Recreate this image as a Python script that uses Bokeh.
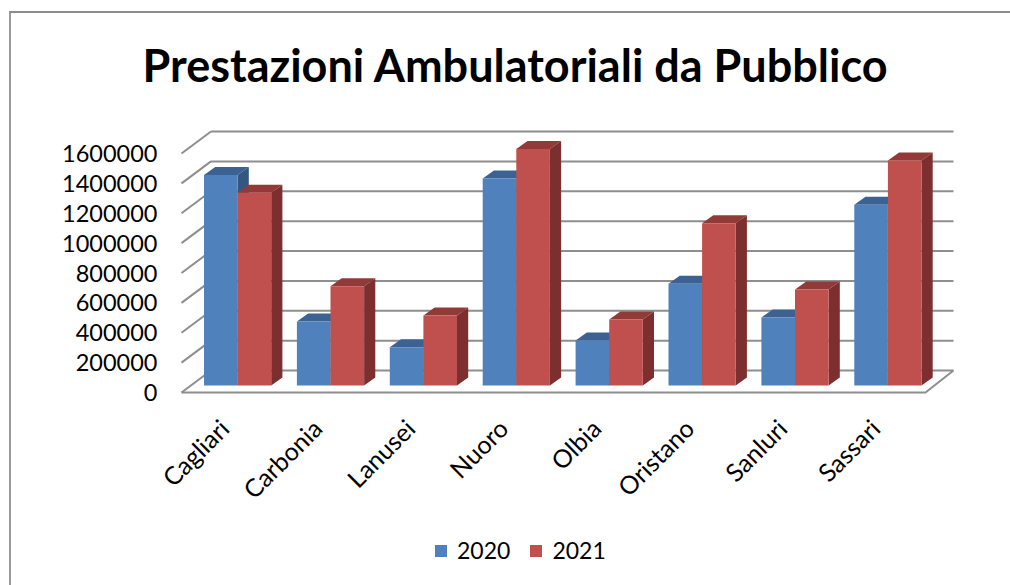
from bokeh.plotting import figure
from bokeh.embed import file_html
from bokeh.resources import INLINE
from bokeh.models import (Range1d, LinearAxis, FixedTicker, Legend, LegendItem,
                          Title, InlineStyleSheet)

categories = ["Cagliari", "Carbonia", "Lanusei", "Nuoro", "Olbia", "Oristano", "Sanluri", "Sassari"]
values_2020 = [1410000, 428000, 256000, 1386000, 301000, 681000, 455000, 1210000]
values_2021 = [1290000, 665000, 469000, 1583000, 442000, 1087000, 643000, 1506000]
y_ticks = [0, 200000, 400000, 600000, 800000, 1000000, 1200000, 1400000, 1600000]
series_names = ["2020", "2021"]

BLUE, BLUE_TOP, BLUE_SIDE = "#4F81BD", "#3B6292", "#335780"
RED, RED_TOP, RED_SIDE = "#C0504D", "#923A38", "#7C2F2E"
GRID = "#8E8E8E"
FONT = "Lato"

PX_X = 1 / 93
PX_Y = 200000 / 29.875

p = figure(width=1010, height=585, frame_width=1010, frame_height=458,
           min_border_left=0, min_border_right=0, min_border_top=127, min_border_bottom=0,
           x_range=Range1d(-181 * PX_X, 829 * PX_X),
           y_range=Range1d(-193 * PX_Y, 265 * PX_Y),
           output_backend="svg", toolbar_location=None, x_axis_type=None, y_axis_type=None)
p.outline_line_color = None
p.background_fill_color = "white"
p.border_fill_color = "white"

# outer chart border, open on the sides that the reference crops
p.stylesheets = [InlineStyleSheet(css=""":host::after { content: ''; position: absolute; left: 8.5px; top: 11px;
    right: 0; bottom: 0; border-left: 2px solid #9A9A9A; border-top: 2px solid #8C8C8C;
    pointer-events: none; z-index: 5; }""")]

wall_dx, wall_dy = 29.5 * PX_X, 22 * PX_Y
n = len(categories)
back_r = 772 * PX_X
p.multi_line([[wall_dx, back_r] for _ in y_ticks],
             [[v + wall_dy, v + wall_dy] for v in y_ticks], line_color=GRID, line_width=2)
p.multi_line([[0, wall_dx] for _ in y_ticks],
             [[v, v + wall_dy] for v in y_ticks], line_color=GRID, line_width=2)
p.line([0, n, n + wall_dx - 1.5 * PX_X], [0, 0, wall_dy], line_color=GRID, line_width=2)

base = 7 * PX_Y
step = 92.9 * PX_X
start = 22.5 * PX_X
bw = 33.6 * PX_X
dx3, dy3 = 11.2 * PX_X, 8 * PX_Y

legend_r = {}
for s, (name, vals, front, top, side) in enumerate(zip(series_names, [values_2020, values_2021],
                                                       [BLUE, RED], [BLUE_TOP, RED_TOP], [BLUE_SIDE, RED_SIDE])):
    xl = [i * step + start + s * bw for i in range(n)]
    xr = [x + bw for x in xl]
    yt = [v + base for v in vals]
    p.patches([[a, a + dx3, b + dx3, b] for a, b in zip(xl, xr)],
              [[t, t + dy3, t + dy3, t] for t in yt], fill_color=top, line_color=None)
    p.patches([[b, b + dx3, b + dx3, b] for b in xr],
              [[base, base + dy3, t + dy3, t] for t in yt], fill_color=side, line_color=None)
    legend_r[name] = p.quad(left=xl, right=xr, bottom=base, top=yt, fill_color=front, line_color=None)

yaxis = LinearAxis(ticker=FixedTicker(ticks=y_ticks), axis_line_color=None, fixed_location=-3 * PX_X,
                   major_tick_line_color=None, minor_tick_line_color=None,
                   major_label_standoff=15, major_label_text_font=FONT,
                   major_label_text_font_size="23.5px", major_label_text_color="black")
yaxis.formatter.use_scientific = False
p.add_layout(yaxis, "left")

centers = [i + 0.5 - 4 * PX_X for i in range(n)]
xaxis = LinearAxis(ticker=FixedTicker(ticks=centers), axis_line_color=None, fixed_location=-4 * PX_Y,
                   major_tick_line_color=None, minor_tick_line_color=None,
                   major_label_overrides={c: t for c, t in zip(centers, categories)},
                   major_label_orientation=0.7854, major_label_standoff=21,
                   major_label_text_font=FONT, major_label_text_font_size="25px",
                   major_label_text_color="black")
p.add_layout(xaxis, "below")

p.add_layout(Title(text="Prestazioni Ambulatoriali da Pubblico", align="left", offset=142,
                   standoff=71, text_font=FONT, text_font_size="45px", text_font_style="bold",
                   text_color="black"), "above")

legend = Legend(items=[LegendItem(label=k, renderers=[r]) for k, r in legend_r.items()],
                orientation="horizontal", location=(433, 21), glyph_width=15, glyph_height=15,
                spacing=18, label_standoff=9, padding=0, margin=0, border_line_color=None,
                background_fill_alpha=0, label_text_font=FONT, label_text_font_size="23px",
                label_text_color="black")
p.add_layout(legend, "center")

open("out.html", "w").write(file_html(p, INLINE))
